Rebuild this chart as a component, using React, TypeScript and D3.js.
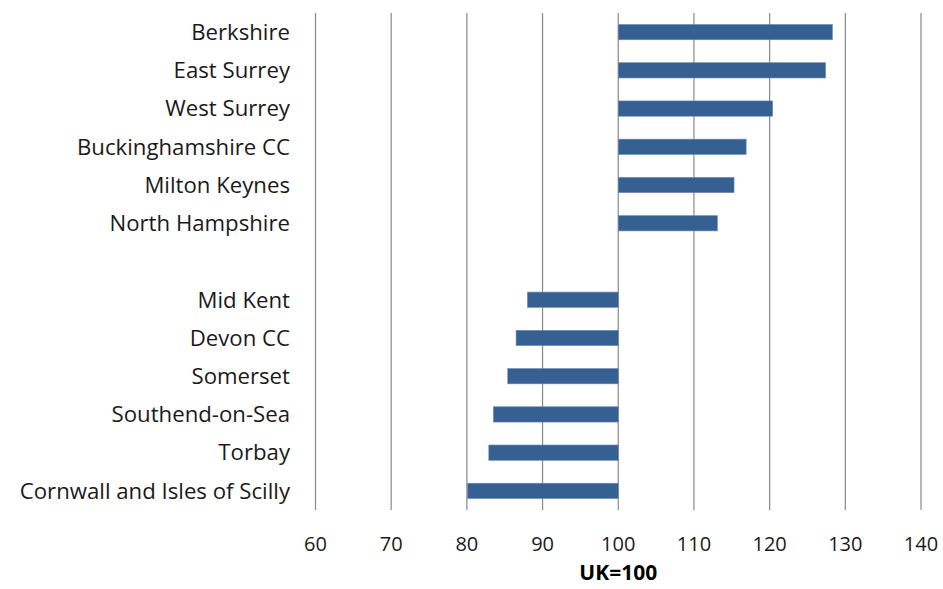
import * as d3 from 'd3';
import React from 'react';

const categories = [
  'Berkshire',
  'East Surrey',
  'West Surrey',
  'Buckinghamshire CC',
  'Milton Keynes',
  'North Hampshire',
  '',
  'Mid Kent',
  'Devon CC',
  'Somerset',
  'Southend-on-Sea',
  'Torbay',
  'Cornwall and Isles of Scilly',
];
const values = [128.3, 127.4, 120.4, 116.9, 115.3, 113.1, null, 88.0, 86.5, 85.4, 83.5, 82.9, 80.1];
const xTicks = [60, 70, 80, 90, 100, 110, 120, 130, 140];
const baseline = 100;
const axisTitle = 'UK=100';

const W = 943;
const H = 589;
const FONT = "'Open Sans', 'Liberation Sans', sans-serif";

const App = () => {
  const x = d3.scaleLinear().domain([60, 140]).range([315.5, 921]);
  const y = d3
    .scaleBand<number>()
    .domain(d3.range(categories.length))
    .range([13, 510])
    .paddingInner(0.6)
    .paddingOuter(0.3);

  return (
    <svg width={W} height={H} style={{ position: 'absolute', left: 0, top: 0 }}>
      <rect width={W} height={H} fill="#fff" />
      {xTicks.map((t) => (
        <line key={t} x1={x(t)} x2={x(t)} y1={13} y2={510} stroke="#888" strokeWidth={1.2} />
      ))}
      {values.map((v, i) =>
        v == null ? null : (
          <rect
            key={i}
            x={x(Math.min(v, baseline))}
            width={Math.abs(x(v) - x(baseline))}
            y={y(i)}
            height={y.bandwidth()}
            fill="#376092"
            stroke="#6a8cb4"
            strokeWidth={0.6}
          />
        ),
      )}
      {categories.map((c, i) => (
        <text
          key={i}
          x={290}
          y={(y(i) ?? 0) + y.bandwidth() / 2}
          dy="0.35em"
          textAnchor="end"
          fontFamily={FONT}
          fontSize={22.2}
          fill="#1a1a1a"
        >
          {c}
        </text>
      ))}
      {xTicks.map((t) => (
        <text
          key={t}
          x={x(t)}
          y={544}
          dy="0.35em"
          textAnchor="middle"
          fontFamily={FONT}
          fontSize={20}
          fill="#1a1a1a"
        >
          {t}
        </text>
      ))}
      <text
        x={x(100)}
        y={573}
        dy="0.35em"
        textAnchor="middle"
        fontFamily={FONT}
        fontSize={21}
        fontWeight="bold"
        fill="#000"
      >
        {axisTitle}
      </text>
    </svg>
  );
};

export default App;
